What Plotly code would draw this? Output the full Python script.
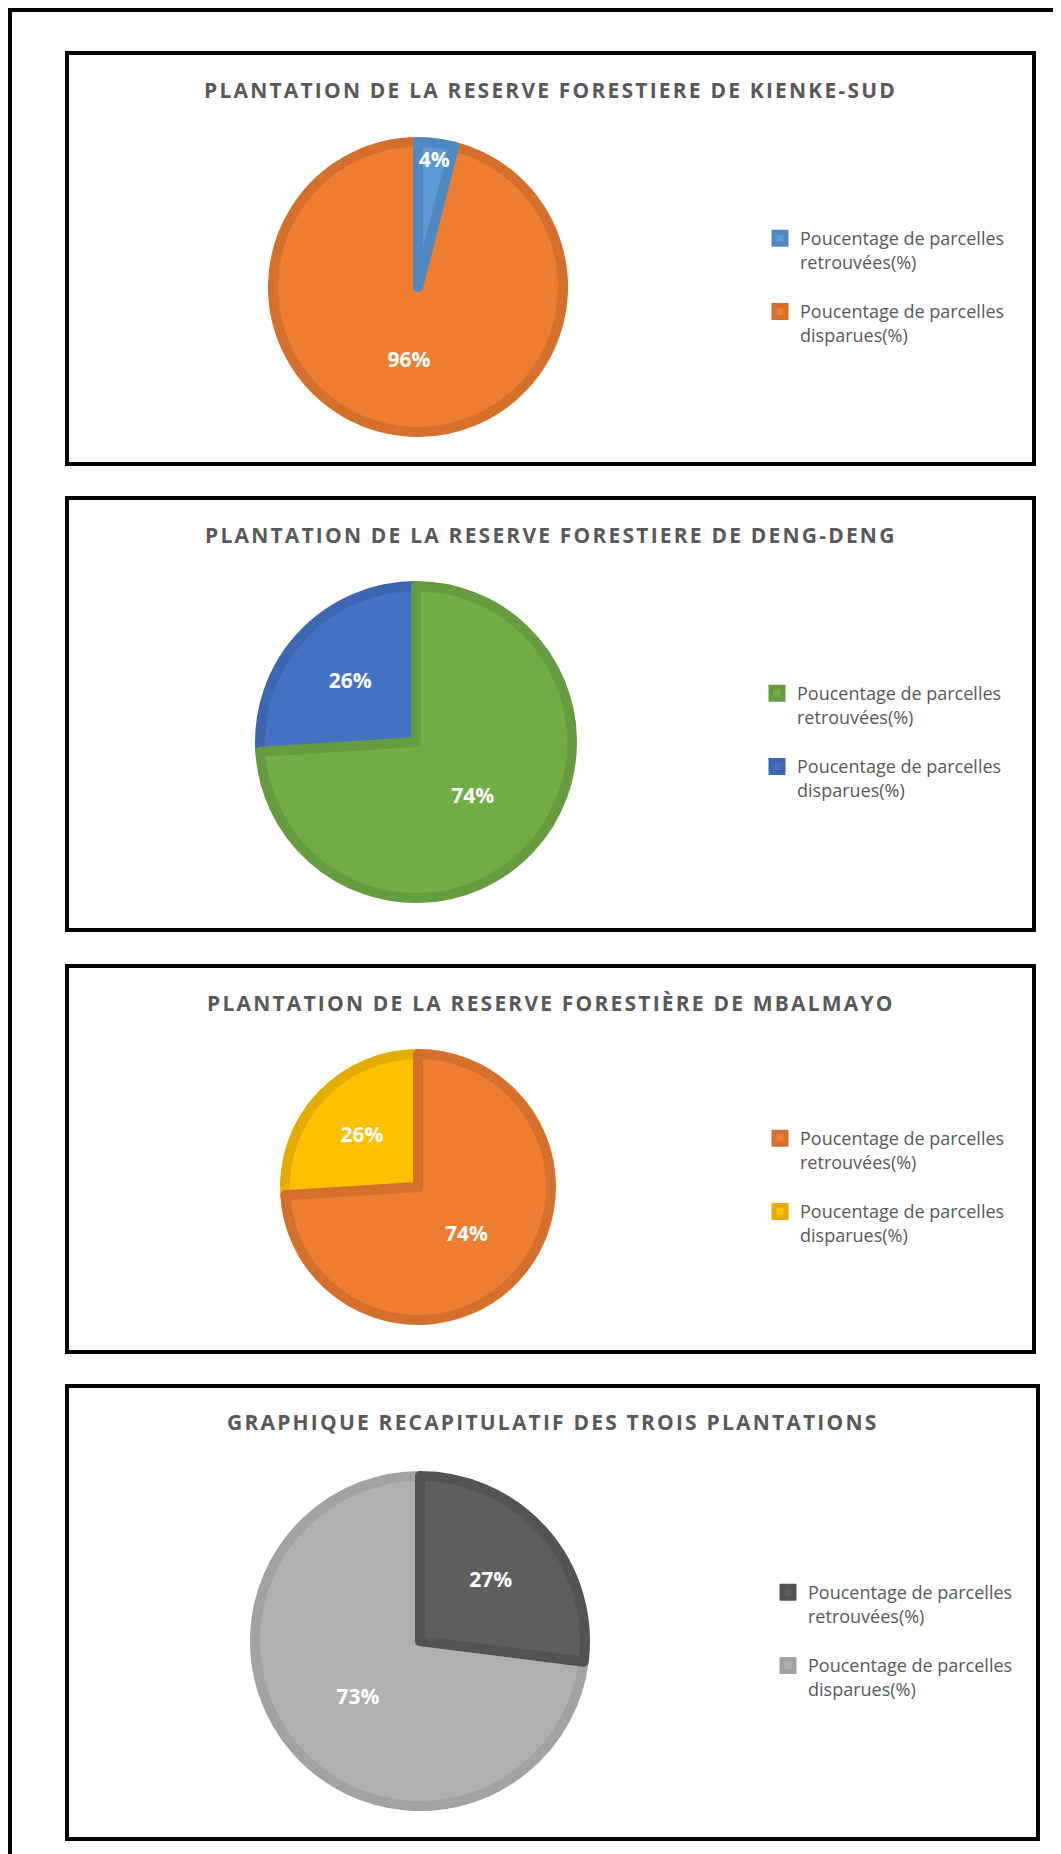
import plotly.graph_objects as go

# the page body adds an 8px margin, so the figure is 8px smaller
OFF = 8
W, H = 1061 - OFF, 1854 - OFF

titles = [
    "PLANTATION DE LA RESERVE FORESTIERE DE KIENKE-SUD",
    "PLANTATION DE LA RESERVE FORESTIERE DE DENG-DENG",
    "PLANTATION DE LA RESERVE FORESTIÈRE DE MBALMAYO",
    "GRAPHIQUE RECAPITULATIF DES TROIS PLANTATIONS",
]
labels = ["Poucentage de parcelles<br>retrouvées(%)<br> ",
          "Poucentage de parcelles<br>disparues(%)<br> "]

kienke_sud = [4, 96]
deng_deng = [74, 26]
mbalmayo = [74, 26]
recap = [27, 73]

fills = [["#5B9BD5", "#ED7D31"], ["#70AD47", "#4472C4"],
         ["#ED7D31", "#FFC000"], ["#5E5E5E", "#B0B0B0"]]
edges = [["#4E89C2", "#D4702C"], ["#659C40", "#3C66B0"],
         ["#D4702C", "#E5AC00"], ["#535353", "#A2A2A2"]]

# page coordinates (px)
panels = [(67, 53, 1034, 464), (67, 498, 1034, 930),
          (67, 966, 1034, 1352), (67, 1386, 1038, 1839)]
pies = [(418, 287, 145), (416, 742, 156), (418, 1187, 133), (420, 1641, 165)]
title_y = [90, 535, 1003, 1422]
legend_pos = [(760, 220), (757, 675), (760, 1120), (768, 1574)]

def fx(x):
    return (x - OFF) / W

def fy(y):
    return 1 - (y - OFF) / H

fig = go.Figure()
series = [kienke_sud, deng_deng, mbalmayo, recap]
for i, vals in enumerate(series):
    cx, cy, r = pies[i]
    name = "legend" if i == 0 else f"legend{i + 1}"
    # slices drawn in reverse order, rotated so the first slice still starts
    # at 12 o'clock going clockwise -> its label is drawn on top
    fig.add_trace(go.Pie(
        labels=labels[::-1],
        values=vals[::-1],
        sort=False,
        direction="clockwise",
        rotation=360 * vals[0] / sum(vals),
        domain=dict(x=[fx(cx - r), fx(cx + r)], y=[fy(cy + r), fy(cy - r)]),
        marker=dict(colors=fills[i][::-1],
                    line=dict(color=edges[i][::-1], width=10)),
        texttemplate="%{percent:.0%}",
        textposition="inside",
        insidetextorientation="horizontal",
        textfont=dict(family="Open Sans", size=21, color="white", weight="bold"),
        legend=name,
        legendgroup=f"pie{i}",
        hoverinfo="label+percent",
    ))
    lx, ly = legend_pos[i]
    fig.update_layout({name: dict(
        x=fx(lx), y=fy(ly), xanchor="left", yanchor="top",
        valign="top", bgcolor="rgba(0,0,0,0)", traceorder="reversed",
        font=dict(family="Open Sans", size=18, color="#595959"),
    )})

shapes = []
for x0, y0, x1, y1 in panels:
    shapes.append(dict(type="rect", xref="paper", yref="paper",
                       x0=fx(x0), x1=fx(x1), y0=fy(y1), y1=fy(y0),
                       line=dict(color="black", width=4)))
# outer frame (only left and top edges are in view)
shapes.append(dict(type="line", xref="paper", yref="paper",
                   x0=fx(10), x1=fx(10), y0=0, y1=fy(10), line=dict(color="black", width=4)))
shapes.append(dict(type="line", xref="paper", yref="paper",
                   x0=fx(8), x1=1, y0=fy(10), y1=fy(10), line=dict(color="black", width=4)))

annotations = []
for i, t in enumerate(titles):
    x0, _, x1, _ = panels[i]
    annotations.append(dict(
        text=f"<span style='letter-spacing:2.2px'><b>{t}</b></span>",
        xref="paper", yref="paper", x=fx((x0 + x1) / 2), y=fy(title_y[i]),
        xanchor="center", yanchor="middle", showarrow=False,
        font=dict(family="Open Sans", size=21, color="#595959"),
    ))

fig.update_layout(
    width=W, height=H,
    margin=dict(l=0, r=0, t=0, b=0),
    paper_bgcolor="white", plot_bgcolor="white",
    shapes=shapes, annotations=annotations,
    uniformtext=dict(minsize=21, mode="show"),
)

fig.write_html("out.html")
